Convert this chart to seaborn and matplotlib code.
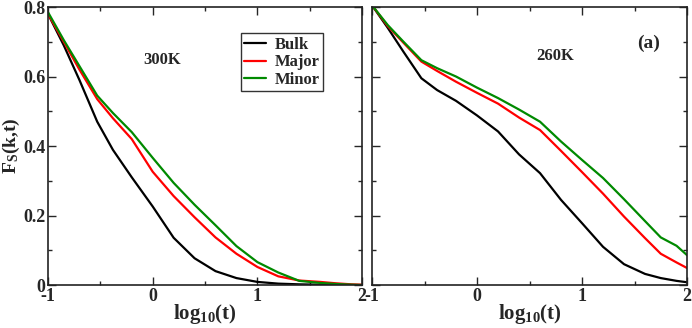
import numpy as np
import pandas as pd
import matplotlib
matplotlib.use("Agg")
import matplotlib.pyplot as plt
import seaborn as sns
from matplotlib.ticker import MultipleLocator

# ---- data ----
logt = [-1.0, -0.85, -0.7, -0.53, -0.38, -0.2, 0.0, 0.2, 0.4, 0.6, 0.8, 1.0,
        1.2, 1.4, 1.6, 1.75, 1.9, 2.0]

bulk_300 = [0.78, 0.69, 0.59, 0.47, 0.389, 0.31, 0.226, 0.136, 0.077, 0.04, 0.02, 0.009,
            0.004, 0.002, 0.001, 0.0, 0.0, 0.0]
major_300 = [0.78, 0.70, 0.62, 0.535, 0.48, 0.42, 0.326, 0.256, 0.195, 0.137, 0.09, 0.052,
             0.025, 0.013, 0.009, 0.005, 0.002, 0.001]
minor_300 = [0.785, 0.705, 0.63, 0.545, 0.495, 0.44, 0.366, 0.294, 0.231, 0.172, 0.112, 0.066,
             0.036, 0.012, 0.006, 0.003, 0.001, 0.0]

bulk_260 = [0.805, 0.74, 0.671, 0.595, 0.561, 0.53, 0.488, 0.442, 0.376, 0.322, 0.245, 0.178,
            0.11, 0.06, 0.032, 0.02, 0.012, 0.008]
major_260 = [0.805, 0.745, 0.697, 0.643, 0.616, 0.585, 0.553, 0.522, 0.482, 0.446, 0.386, 0.325,
             0.263, 0.197, 0.135, 0.09, 0.065, 0.049]
minor_260 = [0.805, 0.748, 0.70, 0.647, 0.624, 0.60, 0.568, 0.538, 0.505, 0.47, 0.413, 0.36,
             0.308, 0.247, 0.184, 0.137, 0.113, 0.086]

series = ["Bulk", "Major", "Minor"]
colors = ["#000000", "#ff0000", "#008a00"]

sns.set_style("ticks")
plt.rcParams['font.family'] = ['Liberation Serif', 'DejaVu Serif']
plt.rcParams['font.weight'] = 'bold'
plt.rcParams['mathtext.fontset'] = 'custom'
plt.rcParams['mathtext.rm'] = 'Liberation Serif:bold'
plt.rcParams['mathtext.it'] = 'Liberation Serif:bold'
plt.rcParams['mathtext.bf'] = 'Liberation Serif:bold'
plt.rcParams['mathtext.default'] = 'rm'

fig = plt.figure(figsize=(6.92, 3.28), dpi=100)
ax1 = fig.add_axes([0.0694, 0.131, 0.4538, 0.8476])
ax2 = fig.add_axes([0.5376, 0.131, 0.4552, 0.8476])

def make_df(b, ma, mi):
    rows = []
    for name, vals in zip(series, [b, ma, mi]):
        for x, y in zip(logt, vals):
            rows.append({"logt": x, "F": y, "series": name})
    return pd.DataFrame(rows)

df1 = make_df(bulk_300, major_300, minor_300)
df2 = make_df(bulk_260, major_260, minor_260)

pal = dict(zip(series, colors))
sns.lineplot(data=df1, x="logt", y="F", hue="series", palette=pal, ax=ax1, linewidth=1.6, legend=True)
sns.lineplot(data=df2, x="logt", y="F", hue="series", palette=pal, ax=ax2, linewidth=1.6, legend=False)

for ax in (ax1, ax2):
    ax.set_xlim(-1, 2)
    ax.set_ylim(0, 0.8)
    ax.xaxis.set_major_locator(MultipleLocator(1))
    ax.xaxis.set_minor_locator(MultipleLocator(0.5))
    ax.yaxis.set_major_locator(MultipleLocator(0.2))
    ax.yaxis.set_minor_locator(MultipleLocator(0.1))
    ax.tick_params(which='both', direction='in', top=True, right=True, labelsize=13, width=1,
                   pad=2)
    ax.tick_params(which='major', length=6)
    ax.tick_params(which='minor', length=3)
    for s in ax.spines.values():
        s.set_color('#222222')
        s.set_linewidth(1.2)
    ax.set_xlabel(r'log$_{10}$(t)', fontsize=15, fontweight='bold', labelpad=-2)

ax1.set_xticks([-1, 0, 1, 2])
ax1.set_xticklabels(['-1', '0', '1', '2'])
ax1.set_yticks([0, 0.2, 0.4, 0.6, 0.8])
ax1.set_yticklabels(['0', '0.2', '0.4', '0.6', '0.8'])
ax2.set_xticks([-1, 0, 1, 2])
ax2.set_xticklabels(['-1', '0', '1', '2'])
for lab in ax1.get_xticklabels() + ax1.get_yticklabels() + ax2.get_xticklabels():
    lab.set_fontweight('bold')
ax2.set_yticklabels([])
ax1.set_ylabel(r'F$_S$(k,t)', fontsize=14, fontweight='bold', labelpad=1)
ax2.set_ylabel('')

ax1.text(0.09, 0.647, '300K', fontsize=12, fontweight='bold', ha='center', va='center')
ax2.text(0.74, 0.66, '260K', fontsize=12, fontweight='bold', ha='center', va='center')
ax2.text(1.63, 0.696, '(a)', fontsize=14, fontweight='bold', ha='center', va='center')

leg = ax1.legend(title=None, loc='upper left', bbox_to_anchor=(0.615, 0.905), fontsize=12,
                 frameon=True, fancybox=False, handlelength=1.3, handletextpad=0.5,
                 borderpad=0.2, labelspacing=0.1, borderaxespad=0)
leg.get_frame().set_edgecolor('black')
leg.get_frame().set_linewidth(1.0)
for t in leg.get_texts():
    t.set_fontweight('bold')

fig.savefig('out.png', dpi=100)
